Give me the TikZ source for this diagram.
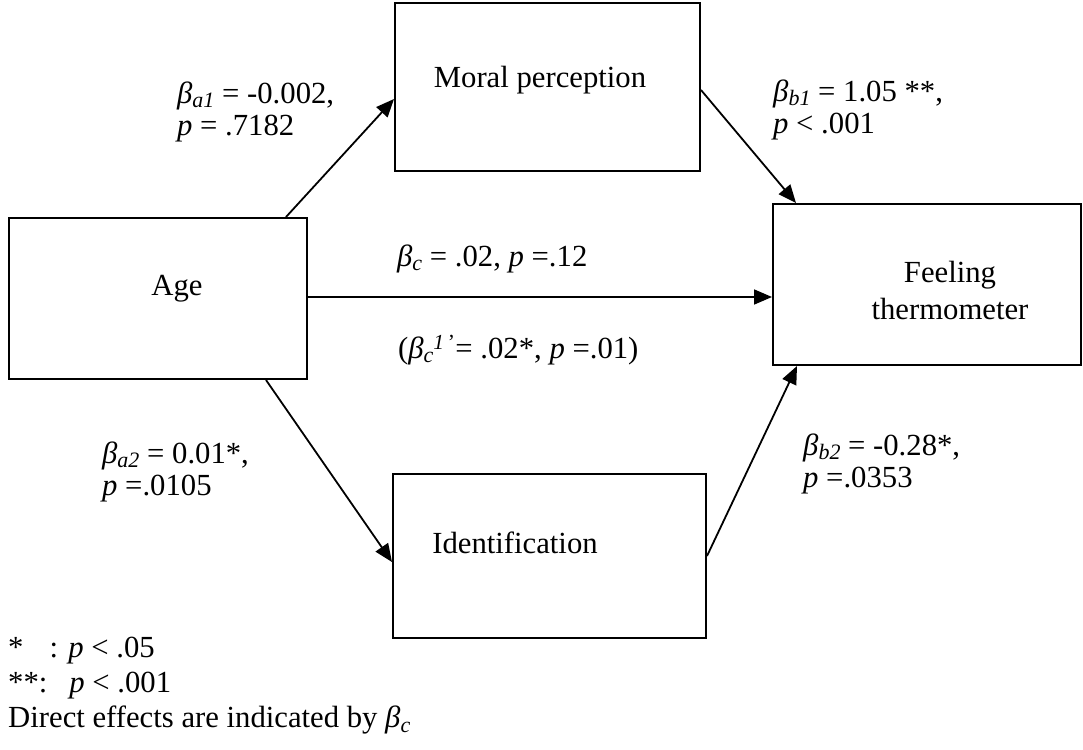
\documentclass[tikz,border=0pt]{standalone}
\usepackage{fontspec}
\setmainfont{Liberation Serif}
\usepackage{tikz}
\usetikzlibrary{arrows.meta, positioning, calc}
\newcommand{\bcoef}[1]{\textit{β}\raisebox{-0.3ex}{\fontsize{22}{22}\selectfont\textit{#1}}}

\begin{document}
\begin{tikzpicture}[
    x=1pt, y=-1pt,
    every node/.style={font=\fontsize{30.7}{32}\selectfont},
    box/.style={rectangle, draw, line width=2pt, inner sep=0pt},
    coef/.style={anchor=west, align=left, inner sep=0pt},
    arr/.style={-{Triangle[length=18pt, width=15pt]}, line width=1.8pt}
]
    \useasboundingbox (0,0) rectangle (1083,749);

    \node[box, minimum width=298pt, minimum height=161pt] (age) at (158,298.5) {};
    \node[box, minimum width=305pt, minimum height=168pt] (moral) at (547.5,87) {};
    \node[box, minimum width=308pt, minimum height=161pt] (feel) at (927,284.5) {};
    \node[box, minimum width=313pt, minimum height=164pt] (ident) at (549.5,556) {};

    \node (agetext) at (177,289) {Age};
    \node (moraltext) at (540,80) {Moral perception};
    \node[align=center] (feeltext) at (950,290) {Feeling\\[5pt]thermometer};
    \node (identtext) at (515,543) {Identification};

    \coordinate (mid) at (0,297);
    \draw[arr] ($(age.north east)+(-22,0)$) -- ($(moral.west)+(0,12)$);
    \draw[arr] ($(moral.east)+(0,3)$) -- ($(feel.north west)+(24,0)$);
    \draw[arr] (age.east |- mid) -- (feel.west |- mid);
    \draw[arr] ($(age.south east)+(-42,0)$) -- ($(ident.west)+(0,6)$);
    \draw[arr] (ident.east) -- ($(feel.south west)+(25,0)$);

    \node[coef] (la1) at (177,112) {\bcoef{a1} = -0.002,\\\textit{p} = .7182};
    \node[coef] (lb1) at (773,110) {\bcoef{b1} = 1.05 **,\\\textit{p} < .001};
    \node[coef] (lc) at (397,259) {\bcoef{c} = .02, \textit{p} =.12};
    \node[coef] (lcp) at (398,350) {(\bcoef{c}\textsuperscript{\textit{1}\,’}= .02*, \textit{p} =.01)};
    \node[coef] (la2) at (102,472) {\bcoef{a2} = 0.01*,\\\textit{p} =.0105};
    \node[coef] (lb2) at (803,464) {\bcoef{b2} = -0.28*,\\\textit{p} =.0353};
    \node[coef, font=\fontsize{30.7}{35}\selectfont] (legend) at (8,686)
        {*\hspace{26pt}: \textit{p} < .05\\**:\hspace{22pt}\textit{p} < .001\\Direct effects are indicated by \bcoef{c}};
\end{tikzpicture}
\end{document}
